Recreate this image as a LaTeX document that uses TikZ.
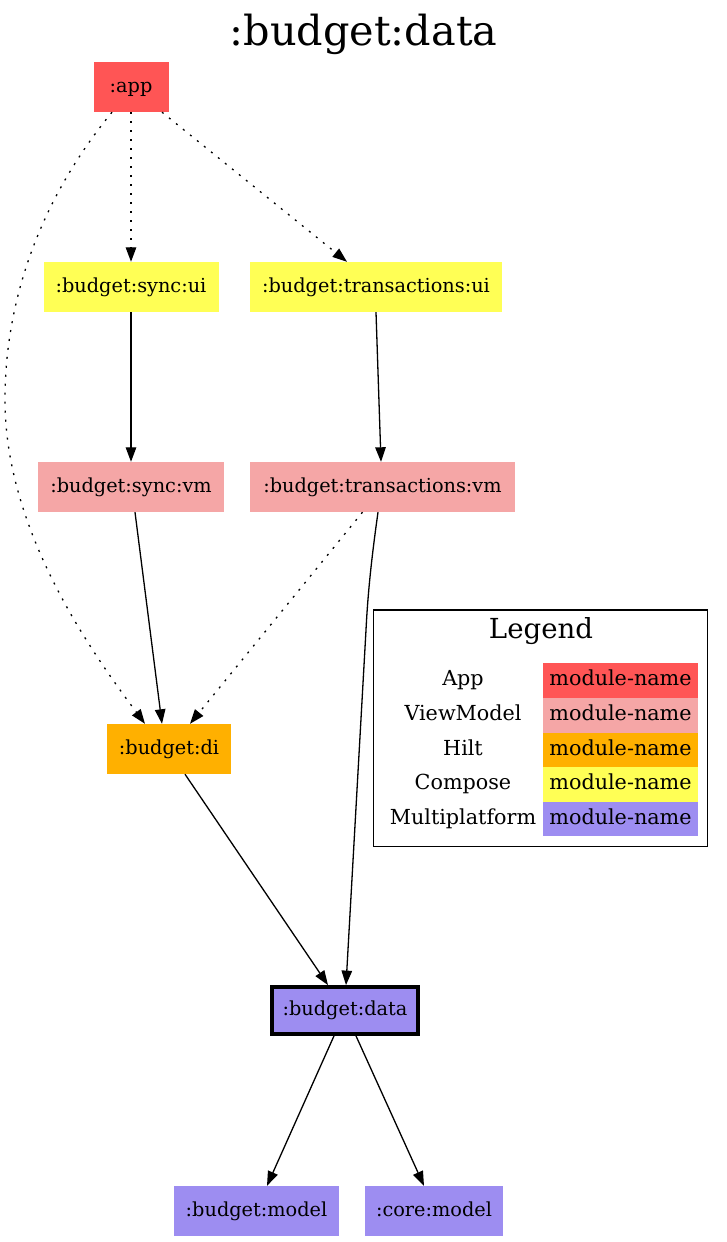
\documentclass[tikz,border=0pt]{standalone}
\usepackage{fontspec}
\setmainfont{DejaVu Serif}
\usetikzlibrary{arrows.meta}
\definecolor{appred}{HTML}{FF5555}
\definecolor{vmpink}{HTML}{F5A6A6}
\definecolor{hiltorange}{HTML}{FFB000}
\definecolor{composeyellow}{HTML}{FFFF55}
\definecolor{mppurple}{HTML}{9D8DF1}
\tikzset{
	module/.style={rectangle, inner sep=0pt, minimum height=50pt, text height=14.5pt, text depth=4.5pt, font=\fontsize{19.3}{23}\selectfont},
	dep/.style={-{Triangle[length=14.5pt,width=10.5pt]}, line width=1.3pt},
	impl/.style={dep, dash pattern=on 2pt off 7pt},
	legendcell/.style={rectangle, inner sep=0pt, minimum width=155pt, minimum height=34.6pt, text height=15.5pt, text depth=4.8pt, font=\fontsize{20.7}{24}\selectfont},
	legendlabel/.style={inner sep=0pt, text height=15.5pt, text depth=4.8pt, font=\fontsize{20.7}{24}\selectfont}
}
\begin{document}
\begin{tikzpicture}[x=1pt,y=-1pt]
		\useasboundingbox (0,0) rectangle (726,1242);
		\node (title) at (363.5,34) {\fontsize{41.4}{48}\selectfont :budget:data};
		\node[module, fill=appred, minimum width=75pt] (app) at (131,87) {:app};
		\node[module, fill=composeyellow, minimum width=175pt] (syncui) at (131,287) {:budget:sync:ui};
		\node[module, fill=composeyellow, minimum width=252pt] (transui) at (376,287) {:budget:transactions:ui};
		\node[module, fill=vmpink, minimum width=186pt] (syncvm) at (131,487) {:budget:sync:vm};
		\node[module, fill=vmpink, minimum width=265pt] (transvm) at (382.5,487) {:budget:transactions:vm};
		\node[module, fill=hiltorange, minimum width=124pt] (di) at (169,749) {:budget:di};
		\node[module, fill=mppurple, draw, line width=3.8pt, minimum width=146pt, minimum height=47pt] (data) at (345,1010.5) {:budget:data};
		\node[module, fill=mppurple, minimum width=165pt] (model) at (256.5,1211) {:budget:model};
		\node[module, fill=mppurple, minimum width=138pt] (coremodel) at (434,1211) {:core:model};
		\draw [impl] ([xshift=-19pt]app.south) .. controls (40,200) and (5,300) .. (5,400) .. controls (5,530) and (90,650) .. ([xshift=-24pt]di.north);
		\draw [impl] (app.south) -- (syncui.north);
		\draw [impl] ([xshift=31pt]app.south) -- ([xshift=-29pt]transui.north);
		\draw [dep] (syncui.south) -- (syncvm.north);
		\draw [dep] (transui.south) -- ([xshift=-1.5pt]transvm.north);
		\draw [dep] ([xshift=4pt]syncvm.south) -- ([xshift=-7pt]di.north);
		\draw [impl] ([xshift=-20pt]transvm.south) -- ([xshift=21pt]di.north);
		\draw [dep] ([xshift=-4.5pt]transvm.south) .. controls (372,555) and (368,590) .. (366,630) -- ([xshift=1pt]data.north);
		\draw [dep] ([xshift=16pt]di.south) -- ([xshift=-17pt]data.north);
		\draw [dep] ([xshift=-11pt]data.south) -- ([xshift=10.5pt]model.north);
		\draw [dep] ([xshift=11pt]data.south) -- ([xshift=-10pt]coremodel.north);
		% legend
		\node[draw, line width=1.2pt, minimum width=334pt, minimum height=236.5pt] (legend) at (540.8,728.25) {};
		\node (legendtitle) at (541,631) {\fontsize{27.6}{32}\selectfont Legend};
		\node[legendlabel] (lgapp) at (463,680.5) {App};
		\node[legendcell, fill=appred] (lgappcell) at (620.5,680.5) {module-name};
		\node[legendlabel] (lgvm) at (463,715.2) {ViewModel};
		\node[legendcell, fill=vmpink] (lgvmcell) at (620.5,715.2) {module-name};
		\node[legendlabel] (lghilt) at (463,750) {Hilt};
		\node[legendcell, fill=hiltorange] (lghiltcell) at (620.5,750) {module-name};
		\node[legendlabel] (lgcompose) at (463,784.5) {Compose};
		\node[legendcell, fill=composeyellow] (lgcomposecell) at (620.5,784.5) {module-name};
		\node[legendlabel] (lgmp) at (463,818.8) {Multiplatform};
		\node[legendcell, fill=mppurple] (lgmpcell) at (620.5,818.8) {module-name};
	\end{tikzpicture}
\end{document}
